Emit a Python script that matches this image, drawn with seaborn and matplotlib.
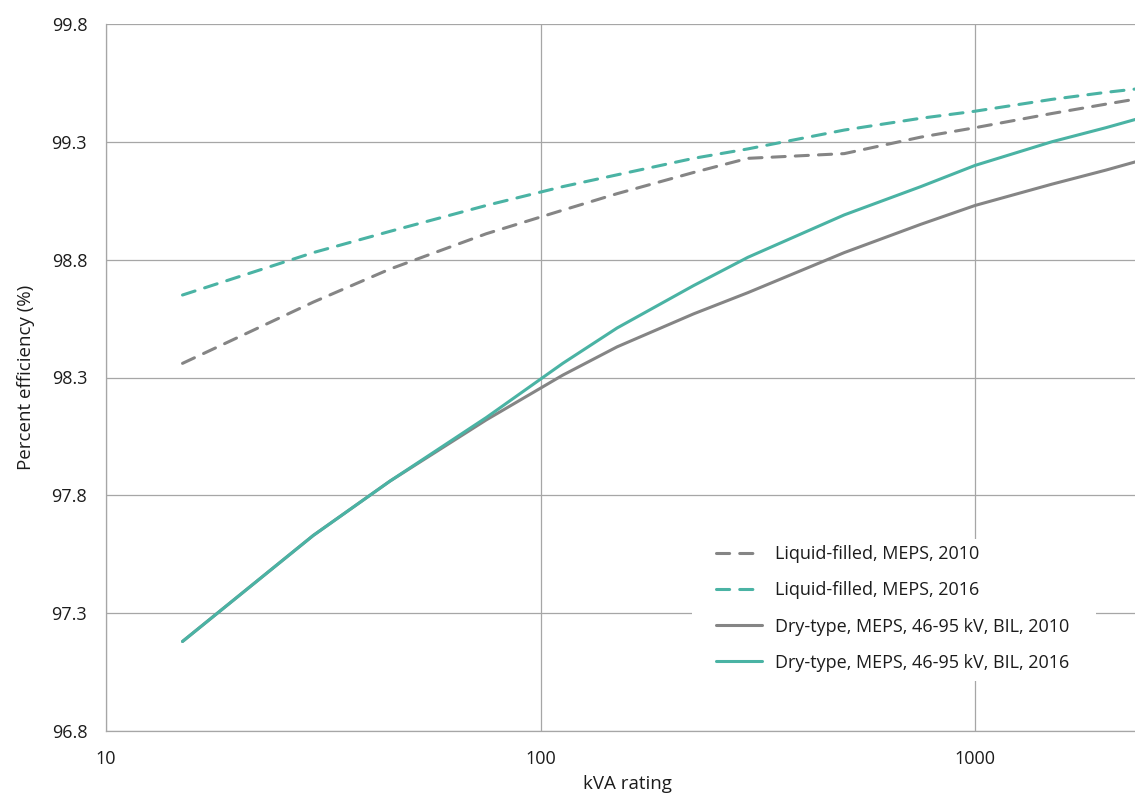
import numpy as np
import pandas as pd
import matplotlib
matplotlib.use("Agg")
import matplotlib.pyplot as plt
from matplotlib.patches import Rectangle
import seaborn as sns

# kVA ratings (three-phase)
kva = [15, 30, 45, 75, 112.5, 150, 225, 300, 500, 750, 1000, 1500, 2000, 2500]

# Minimum efficiency (%) by transformer type and standard year
liquid_2010 = [98.36, 98.62, 98.76, 98.91, 99.01, 99.08, 99.17, 99.23, 99.25, 99.32, 99.36, 99.42, 99.46, 99.49]
liquid_2016 = [98.65, 98.83, 98.92, 99.03, 99.11, 99.16, 99.23, 99.27, 99.35, 99.40, 99.43, 99.48, 99.51, 99.53]
dry_2010 = [97.18, 97.63, 97.86, 98.12, 98.31, 98.43, 98.57, 98.66, 98.83, 98.95, 99.03, 99.12, 99.18, 99.23]
dry_2016 = [97.18, 97.63, 97.86, 98.13, 98.36, 98.51, 98.69, 98.81, 98.99, 99.11, 99.20, 99.30, 99.36, 99.41]

series_names = [
    "Liquid-filled, MEPS, 2010",
    "Liquid-filled, MEPS, 2016",
    "Dry-type, MEPS, 46-95 kV, BIL, 2010",
    "Dry-type, MEPS, 46-95 kV, BIL, 2016",
]
series_values = [liquid_2010, liquid_2016, dry_2010, dry_2016]

y_ticks = [96.8, 97.3, 97.8, 98.3, 98.8, 99.3, 99.8]
x_ticks = [10, 100, 1000]
x_tick_labels = ["10", "100", "1000"]

df = pd.concat(
    [pd.DataFrame({"kVA": kva, "efficiency": vals, "series": name})
     for name, vals in zip(series_names, series_values)],
    ignore_index=True,
)

GRAY = "#858585"
TEAL = "#4ab3a4"
GRID = "#a6a6a6"
TEXT = "#1c1c1c"

palette = dict(zip(series_names, [GRAY, TEAL, GRAY, TEAL]))
dash = (4.3, 3.3)
dashes = dict(zip(series_names, [dash, dash, "", ""]))

sns.set_style("white")
plt.rcParams["font.family"] = ["Open Sans", "DejaVu Sans"]

W, H = 1135, 797
fig = plt.figure(figsize=(W / 100, H / 100), dpi=100)
ax_left, ax_right, ax_top, ax_bottom = 106, 1148, 24, 731
ax = fig.add_axes([ax_left / W, 1 - ax_bottom / H,
                   (ax_right - ax_left) / W, (ax_bottom - ax_top) / H])

sns.lineplot(data=df, x="kVA", y="efficiency", hue="series", style="series",
             hue_order=series_names, style_order=series_names,
             palette=palette, dashes=dashes, linewidth=2.2, ax=ax,
             legend=False, zorder=3)
for line in ax.get_lines():
    line.set_dash_capstyle("round")
    line.set_solid_capstyle("round")
    line.set_solid_joinstyle("round")

ax.set_xscale("log")
ax.set_xlim(10, 2500)
ax.set_ylim(96.8, 99.8)
ax.set_yticks(y_ticks)
ax.set_yticklabels([f"{v:.1f}" for v in y_ticks])
ax.set_xticks(x_ticks)
ax.set_xticklabels(x_tick_labels)
ax.xaxis.set_minor_locator(matplotlib.ticker.LogLocator(base=10, subs=np.arange(2, 10)))
ax.xaxis.set_minor_formatter(matplotlib.ticker.NullFormatter())

ax.grid(True, which="major", axis="both", color=GRID, linewidth=0.9)
ax.set_axisbelow(True)
for side in ["top", "right"]:
    ax.spines[side].set_visible(False)
for side in ["left", "bottom"]:
    ax.spines[side].set_color(GRID)
    ax.spines[side].set_linewidth(0.9)

ax.tick_params(axis="both", which="major", direction="out", length=4.5, width=0.9,
               color=GRID, labelsize=13, labelcolor=TEXT)
ax.tick_params(axis="y", pad=9)
ax.tick_params(axis="x", pad=9)
ax.tick_params(axis="x", which="minor", direction="out", length=3.5, width=0.9, color=GRID)

ax.set_xlabel("kVA rating", fontsize=13.5, color=TEXT, labelpad=5)
ax.set_ylabel("Percent efficiency (%)", fontsize=13.5, color=TEXT, labelpad=12)

# White panel behind the legend
box = (692, 539, 1096, 681)
fig.patches.append(Rectangle((box[0] / W, 1 - box[3] / H),
                             (box[2] - box[0]) / W, (box[3] - box[1]) / H,
                             transform=fig.transFigure, facecolor="white",
                             edgecolor="none", zorder=1))

handles = [plt.Line2D([], [], color=palette[n], linewidth=2.2,
                      dashes=(dash if dashes[n] else ()),
                      dash_capstyle="round", solid_capstyle="round")
           for n in series_names]
leg = fig.legend(handles, series_names, loc="upper left",
                 bbox_to_anchor=(711 / W, 1 - 540 / H), frameon=False,
                 fontsize=13, handlelength=2.55, handletextpad=0.72,
                 labelspacing=1.0, borderaxespad=0, borderpad=0.3)
for t in leg.get_texts():
    t.set_color(TEXT)
leg.set_zorder(5)

fig.savefig("out.png", dpi=100)
